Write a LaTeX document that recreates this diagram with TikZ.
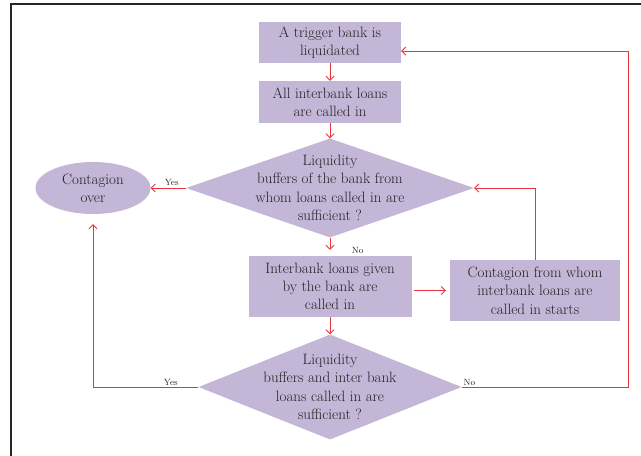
\documentclass[tikz,border=0pt]{standalone}
\usepackage{tikz}
\usetikzlibrary{arrows.meta, shapes.geometric, calc}
\definecolor{boxlilac}{HTML}{C3B6D7}
\definecolor{linkred}{HTML}{E8343C}
\definecolor{inkgray}{HTML}{222222}
\tikzset{>={Straight Barb[length=4bp,width=8bp]}}
\tikzset{
  stepbox/.style={fill=boxlilac, text=inkgray, inner sep=0pt, align=center,
    font=\fontsize{15bp}{18.3bp}\selectfont},
  ask/.style={diamond, fill=boxlilac, inner sep=0pt},
  asktext/.style={text=inkgray, inner sep=0pt, align=center,
    font=\fontsize{15bp}{18.3bp}\selectfont},
  endstate/.style={ellipse, fill=boxlilac, text=inkgray, inner sep=0pt, align=center,
    font=\fontsize{15bp}{18.3bp}\selectfont},
  link/.style={->, draw=linkred, line width=0.8bp},
  ans/.style={text=inkgray, inner sep=1.5bp, font=\fontsize{9bp}{10bp}\selectfont},
  frame/.style={draw=black!85, line width=1.5bp}
}

\begin{document}
\begin{tikzpicture}[x=1bp, y=-1bp]
\useasboundingbox (0,0) rectangle (641,456);
\draw[frame] (11,456) |- (641,4);

\node[stepbox, minimum width=142bp, minimum height=41bp] (trigger) at (330,42.5) {A trigger bank is\\liquidated};
\node[stepbox, minimum width=142bp, minimum height=42bp] (callall) at (330,102) {All interbank loans\\are called in};
\node[ask, minimum width=288bp, minimum height=99bp] (askone) at (330,188) {};
\node[asktext] at (askone) {Liquidity\\buffers of the bank from\\whom loans called in are\\sufficient ?};
\node[endstate, minimum width=115bp, minimum height=52bp] (over) at (93,188) {Contagion\\over};
\node[stepbox, minimum width=163bp, minimum height=61bp] (callgiven) at (330,286.5) {Interbank loans given\\by the bank are\\called in};
\node[stepbox, minimum width=170bp, minimum height=61bp] (spread) at (535,290.5) {Contagion from whom\\interbank loans are\\called in starts};
\node[ask, minimum width=263bp, minimum height=105bp] (asktwo) at (330,387) {};
\node[asktext] at (asktwo) {Liquidity\\buffers and inter bank\\loans called in are\\sufficient ?};
\coordinate (loopback) at (628,51);

\draw[link] (trigger) -- (callall);
\draw[link] (callall) -- (askone);
\draw[link] (askone.west) -- node[ans, above, pos=0.4] {Yes} (over.east);
\draw[link, shorten >=6bp] (askone.south) -- node[ans, right=20bp, pos=0.7] {No} (callgiven.north);
\draw[link, shorten <=2bp, shorten >=4bp] (callgiven.east |- spread.west) -- (spread.west);
\draw[link] (spread.north) |- (askone.east);
\draw[link] (callgiven) -- (asktwo);
\draw[link, shorten >=10bp] (asktwo.west) -| node[ans, above, pos=0.13] {Yes} (over.south);
\draw[link] (asktwo.east) -| node[ans, above right, pos=0] {No} (loopback) -- (trigger.east |- loopback);
\end{tikzpicture}
\end{document}
